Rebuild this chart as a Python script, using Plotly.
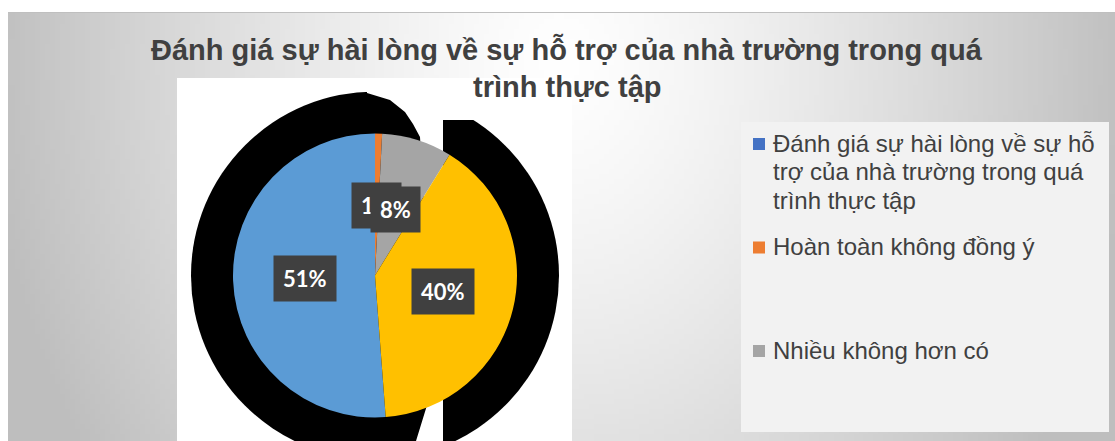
import math, zlib, struct, base64, textwrap
import numpy as np
import plotly.graph_objects as go

# ---------------- data ----------------
title_lines = ["Đánh giá sự hài lòng về sự hỗ trợ của nhà trường trong quá", "trình thực tập"]
categories = [
    "Đánh giá sự hài lòng về sự hỗ trợ của nhà trường trong quá trình thực tập",
    "Hoàn toàn không đồng ý",
    "Nhiều không hơn có",
    "Đồng ý",
]
values = [64, 1, 10, 50]
slice_colors = ["#5B9BD5", "#ED7D31", "#A5A5A5", "#FFC000"]
legend_categories = categories[:3]
legend_colors = ["#4472C4", "#ED7D31", "#A5A5A5"]

W, H = 1115, 441

def px(x):
    return x / W

def py(y):
    return 1 - y / H

# ---------------- background gradient image ----------------
def make_png(arr):
    h, w, _ = arr.shape
    raw = b"".join(b"\x00" + arr[r].tobytes() for r in range(h))
    def chunk(tag, data):
        c = struct.pack(">I", len(data)) + tag + data
        return c + struct.pack(">I", zlib.crc32(tag + data) & 0xffffffff)
    png = b"\x89PNG\r\n\x1a\n"
    png += chunk(b"IHDR", struct.pack(">IIBBBBB", w, h, 8, 2, 0, 0, 0))
    png += chunk(b"IDAT", zlib.compress(raw, 9))
    png += chunk(b"IEND", b"")
    return "data:image/png;base64," + base64.b64encode(png).decode()

gx0, gy0, gx1, gy1 = 8, 12, W, H
gw, gh = 222, 86
xs = np.linspace(gx0, gx1, gw)
ys = np.linspace(gy0, gy1, gh)
XX, YY = np.meshgrid(xs, ys)
t = np.sqrt(((XX - 560) / 580) ** 2 + ((YY - 60) / 714) ** 2)
t = np.clip(t, 0, 1)
val = 255 - 65 * t ** 1.3
img = np.repeat(val[:, :, None], 3, axis=2).astype(np.uint8)
grad_src = make_png(img)

# ---------------- pie ----------------
cx, cy, R = 375, 275.5, 142
total = sum(values)
rotation = 360 - 360 * values[0] / total

fig = go.Figure()
fig.add_trace(go.Pie(
    labels=categories, values=values, sort=False, direction="clockwise",
    rotation=rotation, textinfo="none",
    marker=dict(colors=slice_colors, line=dict(width=0)),
    domain=dict(x=[px(cx - R), px(cx + R)], y=[py(cy + R), py(cy - R)]),
    showlegend=False,
))

shapes = []
# top border line
shapes.append(dict(type="line", xref="paper", yref="paper", x0=px(8), x1=1, y0=py(12.5), y1=py(12.5),
                   line=dict(color="#BFBFBF", width=1), layer="below"))
# white plot area
shapes.append(dict(type="rect", xref="paper", yref="paper", x0=px(177), x1=px(572), y0=py(78), y1=0,
                   fillcolor="white", line=dict(width=0), layer="below"))
# black shadow blob
RB = 184
shapes.append(dict(type="circle", xref="paper", yref="paper", x0=px(cx - RB), x1=px(cx + RB),
                   y0=py(cy + RB), y1=py(cy - RB), fillcolor="black", line=dict(width=0), layer="below"))
# gap in shadow
gap_pts = [(367, 78), (367, 93), (390, 100), (405, 112), (413, 124), (420, 137), (430, 300),
           (428, 402), (416, 441), (443, 441), (443, 120), (572, 120), (572, 78)]
path = "M " + " L ".join(f"{px(a)},{py(b)}" for a, b in gap_pts) + " Z"
shapes.append(dict(type="path", xref="paper", yref="paper", path=path, fillcolor="white",
                   line=dict(width=0), layer="below"))
# legend box
shapes.append(dict(type="rect", xref="paper", yref="paper", x0=px(741), x1=px(1109), y0=py(432), y1=py(122),
                   fillcolor="#F2F2F2", line=dict(width=0), layer="below"))

annotations = []
# title
for i, line in enumerate(title_lines):
    annotations.append(dict(text=line, x=px(567), y=py(50 + 37 * i), xref="paper", yref="paper",
                            xanchor="center", yanchor="middle", showarrow=False,
                            font=dict(family="Liberation Sans", size=29, color="#404040", weight="bold")))

# data labels
cum = 0
for v in values:
    mid = math.radians(rotation + 360 * (cum + v / 2) / total)
    cum += v
    rl = 0.49 * R
    lx = cx + rl * math.sin(mid)
    ly = cy - rl * math.cos(mid)
    annotations.append(dict(text=f"{round(100 * v / total)}%", x=px(lx), y=py(ly), xref="paper", yref="paper",
                            xanchor="center", yanchor="middle", showarrow=False,
                            bgcolor="#404040", borderpad=9,
                            font=dict(family="Lato", size=22, color="white", weight="bold")))

# legend
leg_y0, leg_step, line_h = 143, 103.5, 28.5
for i, (lab, col) in enumerate(zip(legend_categories, legend_colors)):
    yc = leg_y0 + i * leg_step
    shapes.append(dict(type="rect", xref="paper", yref="paper", x0=px(753), x1=px(765),
                       y0=py(yc + 7), y1=py(yc - 5), fillcolor=col, line=dict(width=0), layer="above"))
    for j, ln in enumerate(textwrap.wrap(lab, 30)):
        annotations.append(dict(text=ln, x=px(771), y=py(yc + j * line_h), xref="paper", yref="paper",
                                xanchor="left", yanchor="middle", showarrow=False,
                                font=dict(family="Liberation Sans", size=24, color="#404040")))

fig.update_layout(
    width=W, height=H, margin=dict(l=0, r=0, t=0, b=0),
    paper_bgcolor="white", plot_bgcolor="white", showlegend=False,
    shapes=shapes, annotations=annotations,
    images=[dict(source=grad_src, xref="paper", yref="paper", x=px(gx0), y=py(gy0),
                 sizex=px(gx1) - px(gx0), sizey=py(gy0) - py(gy1), sizing="stretch",
                 xanchor="left", yanchor="top", layer="below")],
)

fig.write_html("out.html", config={"displayModeBar": False},
               post_script="document.body.style.margin='0';document.body.style.overflow='hidden';")
